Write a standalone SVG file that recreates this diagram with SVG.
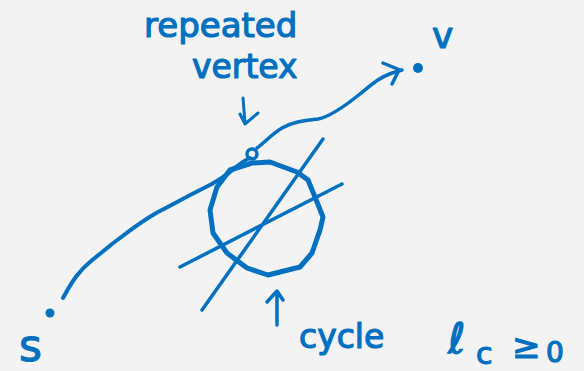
<svg xmlns="http://www.w3.org/2000/svg" width="584" height="371" viewBox="0 0 584 371">
<style>
.ink{fill:none;stroke:#0070c0;stroke-linecap:round;stroke-linejoin:round}
.t{fill:#0070c0;stroke:#0070c0;stroke-width:1.2;stroke-linejoin:round;font-family:"DejaVu Sans",sans-serif}
</style>
<rect width="584" height="371" fill="#f3f3f3"/>
<g id="connectors">
<path class="ink" stroke-width="4" d="M63,298 C70,285 74,278 80,272 C88,262 98,256 112,244 C128,232 140,222 158,212 C172,205 184,198 200,190 C215,183 225,177 236,167 C241,163 245,160 250,158"/>
<path class="ink" stroke-width="3.5" d="M257,148 C265,142 272,134 282,128 C292,122 302,121 318,119 C330,117 345,106 360,94 C370,86 378,78 392,73 L402,70"/>
<path class="ink" stroke-width="3.5" d="M383,63 L400,70 M392,84 L398,72"/>
</g>
<g id="node-s">
<circle cx="50" cy="313" r="4.5" fill="#0070c0"/>
<text class="t" x="19" y="361" font-size="44">s</text>
</g>
<g id="node-v">
<circle cx="418" cy="68" r="5" fill="#0070c0"/>
<text class="t" x="432" y="48" font-size="36">v</text>
</g>
<g id="repeated-vertex">
<circle cx="252" cy="154" r="5" class="ink" stroke-width="3.5"/>
<text class="t" x="144" y="37" font-size="34">repeated</text>
<text class="t" x="192" y="78" font-size="33">vertex</text>
<path class="ink" stroke-width="3" d="M243,98 L245,123 M240,114 L245,124 L258,113"/>
</g>
<g id="cycle">
<path class="ink" stroke-width="5" d="M230,170 L252,163 L270,162 L297,172 L308,180 L315,197 L323,217 L320,230 L312,253 L300,267 L268,275 L247,268 L227,253 L213,233 L210,210 L217,187 Z"/>
<path class="ink" stroke-width="3.5" d="M202,310 L323,139 M180,267 L342,184"/>
<path class="ink" stroke-width="3.5" d="M277,325 L277,292 M267,302 L277,291 L283,300"/>
<text class="t" x="299" y="348" font-size="33">cycle</text>
</g>
<g id="label-lc">
<text class="t" x="448" y="353" font-size="42">ℓ</text>
<text class="t" x="476" y="364" font-size="30">c</text>
<text class="t" x="512" y="358" font-size="34">≥</text>
<text class="t" x="546" y="362" font-size="28">0</text>
</g>
</svg>
